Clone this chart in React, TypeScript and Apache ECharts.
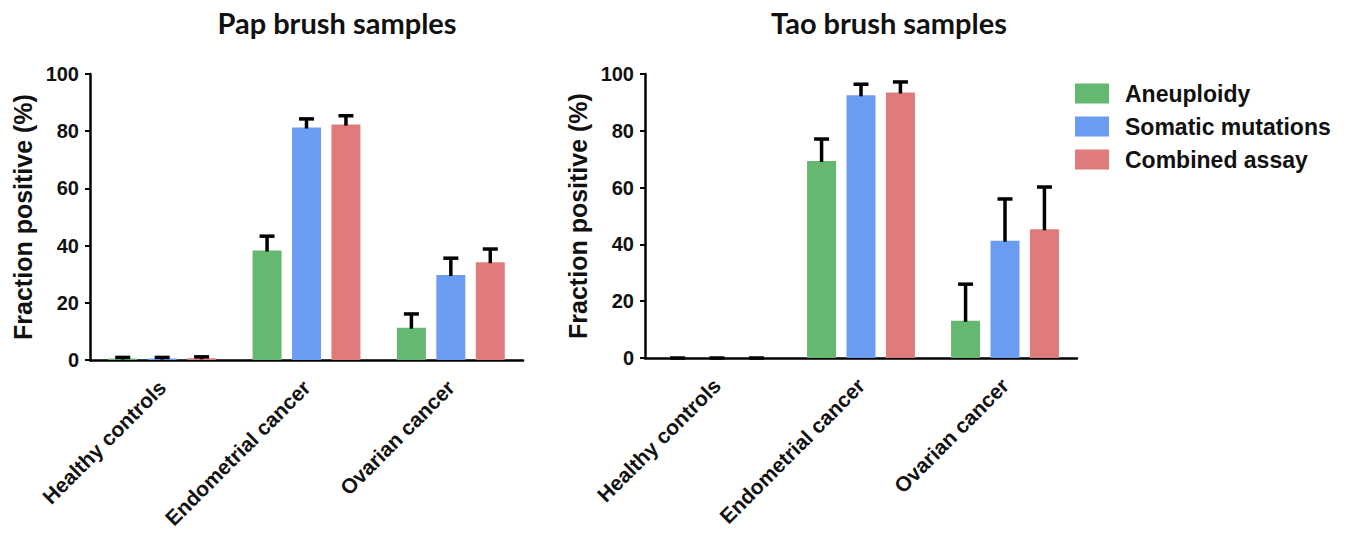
import React, { useEffect, useRef } from "react";
import * as echarts from "echarts";

const categories = ["Healthy controls", "Endometrial cancer", "Ovarian cancer"];
const seriesNames = ["Aneuploidy", "Somatic mutations", "Combined assay"];
const seriesColors = ["#64b870", "#6a9df2", "#e07b7b"];

// Pap brush samples: bar values and upper error-bar ends, per series
const papAneuploidy = [0.5, 38.3, 11.3];
const papSomatic = [0.5, 81.3, 29.7];
const papCombined = [0.6, 82.3, 34.2];
const papAneuploidyErr = [0.9, 43.3, 16.1];
const papSomaticErr = [0.9, 84.3, 35.6];
const papCombinedErr = [1.1, 85.4, 38.8];

// Tao brush samples
const taoAneuploidy = [0, 69.4, 13.1];
const taoSomatic = [0, 92.5, 41.3];
const taoCombined = [0, 93.5, 45.3];
const taoAneuploidyErr = [0, 77.1, 26.0];
const taoSomaticErr = [0, 96.4, 56.0];
const taoCombinedErr = [0, 97.2, 60.2];

const panelTitles = ["Pap brush samples", "Tao brush samples"];
const yAxisName = "Fraction positive (%)";

const BAR_W = 29;
const BAR_GAP = 0.36;

const AX_FONT = "Liberation Sans, Arial, sans-serif";

export default function App() {
  const ref = useRef<HTMLDivElement>(null);

  useEffect(() => {
    if (!ref.current) return;
    const chart = echarts.init(ref.current, undefined, { renderer: "svg" });

    const panels = [
      { vals: [papAneuploidy, papSomatic, papCombined], errs: [papAneuploidyErr, papSomaticErr, papCombinedErr] },
      { vals: [taoAneuploidy, taoSomatic, taoCombined], errs: [taoAneuploidyErr, taoSomaticErr, taoCombinedErr] },
    ];

    const grids = [
      { left: 90, width: 433, top: 74, height: 286 },
      { left: 645, width: 432, top: 74, height: 284 },
    ];

    const xAxes = grids.map((_, i) => ({
      type: "category",
      gridIndex: i,
      data: categories,
      axisLine: { lineStyle: { color: "#000", width: 2.5 } },
      axisTick: { alignWithLabel: true, length: 6, lineStyle: { color: "#000", width: 2 } },
      axisLabel: {
        rotate: 45,
        margin: 24,
        color: "#111",
        fontFamily: AX_FONT,
        fontWeight: "bold",
        fontSize: 21,
        interval: 0,
      },
    }));

    const yAxes = grids.map((_, i) => ({
      type: "value",
      gridIndex: i,
      min: 0,
      max: 100,
      interval: 20,
      name: yAxisName,
      nameLocation: "middle",
      nameGap: 55,
      nameTextStyle: { color: "#111", fontFamily: AX_FONT, fontWeight: "bold", fontSize: 25 },
      splitLine: { show: false },
      axisLine: { show: true, lineStyle: { color: "#000", width: 2.5 } },
      axisTick: { show: true, length: 5, lineStyle: { color: "#000", width: 2 } },
      axisLabel: { color: "#111", fontFamily: AX_FONT, fontWeight: "bold", fontSize: 20, margin: 11 },
    }));

    const series: any[] = [];
    panels.forEach((p, gi) => {
      p.vals.forEach((v, si) => {
        series.push({
          type: "bar",
          name: seriesNames[si],
          xAxisIndex: gi,
          yAxisIndex: gi,
          data: v,
          barWidth: BAR_W,
          barGap: BAR_GAP * 100 + "%",
          itemStyle: { color: seriesColors[si] },
          z: 2,
        });
      });
      p.errs.forEach((e, si) => {
        const offset = (si - 1) * BAR_W * (1 + BAR_GAP);
        series.push({
          type: "custom",
          name: "err-" + gi + "-" + si,
          xAxisIndex: gi,
          yAxisIndex: gi,
          data: e.map((top, ci) => [ci, p.vals[si][ci], top]),
          z: 3,
          renderItem: (params: any, api: any) => {
            const base = api.coord([api.value(0), api.value(1)]);
            const top = api.coord([api.value(0), api.value(2)]);
            const x = base[0] + offset;
            const half = 7.5;
            return {
              type: "group",
              children: [
                {
                  type: "line",
                  shape: { x1: x, y1: base[1] + 1, x2: x, y2: top[1] },
                  style: { stroke: "#000", lineWidth: 3.5 },
                },
                {
                  type: "line",
                  shape: { x1: x - half, y1: top[1], x2: x + half, y2: top[1] },
                  style: { stroke: "#000", lineWidth: 3.5 },
                },
              ],
            };
          },
        });
      });
    });

    const titleStyle = {
      fontFamily: "Lato, Open Sans, sans-serif",
      fontWeight: "bold",
      fontSize: 29,
      fill: "#111",
      textAlign: "center",
      textVerticalAlign: "middle",
    };

    chart.setOption({
      animation: false,
      backgroundColor: "#fff",
      grid: grids.map((g) => ({ ...g, containLabel: false })),
      xAxis: xAxes,
      yAxis: yAxes,
      legend: {
        data: seriesNames,
        orient: "vertical",
        left: 1070,
        top: 77,
        itemWidth: 34,
        itemHeight: 20,
        itemGap: 10,
        icon: "rect",
        selectedMode: false,
        textStyle: {
          color: "#111",
          fontFamily: AX_FONT,
          fontWeight: "bold",
          fontSize: 23,
          padding: [0, 0, 0, 11],
        },
      },
      graphic: [
        { type: "text", x: 337, y: 22, style: { ...titleStyle, text: panelTitles[0] } },
        { type: "text", x: 889, y: 22, style: { ...titleStyle, text: panelTitles[1] } },
      ],
      series,
    });

    return () => chart.dispose();
  }, []);

  return (
    <div
      ref={ref}
      style={{ position: "fixed", left: 0, top: 0, width: 1350, height: 540, background: "#fff" }}
    />
  );
}
